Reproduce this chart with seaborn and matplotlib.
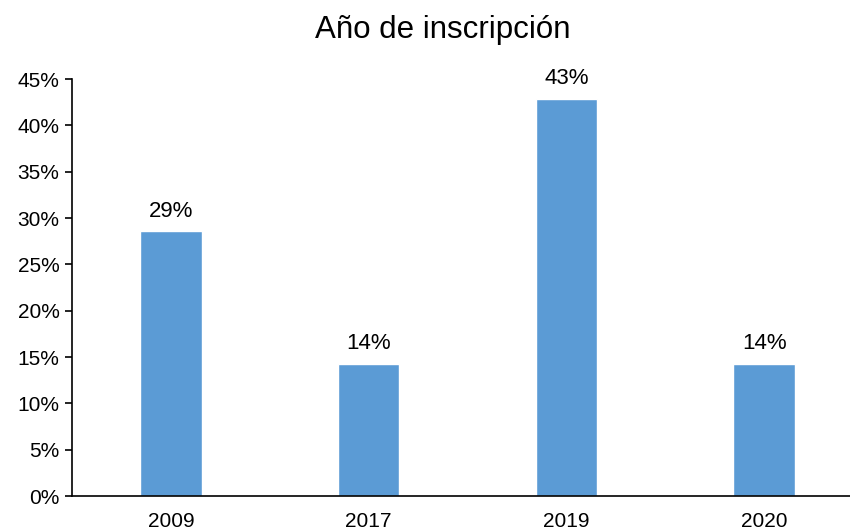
import matplotlib
matplotlib.use("Agg")
import matplotlib.pyplot as plt
import seaborn as sns
import pandas as pd
from matplotlib.ticker import PercentFormatter

# data
years = ["2009", "2017", "2019", "2020"]
shares = [28.57, 14.29, 42.86, 14.29]
labels = ["29%", "14%", "43%", "14%"]

df = pd.DataFrame({"year": years, "share": shares})

sns.set_style("white")
plt.rcParams['font.family'] = ['Liberation Sans', 'DejaVu Sans']
plt.rcParams['text.color'] = 'black'
plt.rcParams['xtick.color'] = 'black'
plt.rcParams['ytick.color'] = 'black'

fig = plt.figure(figsize=(8.5, 5.31), dpi=100)
ax = fig.add_axes([0.0847, 0.0659, 0.9306, 0.7853])

sns.barplot(data=df, x="year", y="share", color="#5B9BD5", saturation=1,
            width=0.31, ax=ax)

ax.set_xlim(-0.5, 3.5)
ax.set_ylim(0, 45)
ax.set_yticks(range(0, 50, 5))
ax.yaxis.set_major_formatter(PercentFormatter(decimals=0))
ax.set_xlabel("")
ax.set_ylabel("")

for p, lab in zip(ax.patches, labels):
    ax.annotate(lab, (p.get_x() + p.get_width() / 2, p.get_height()),
                xytext=(0, 7), textcoords="offset points",
                ha="center", va="bottom", fontsize=16, color="black")

for s in ["top", "right"]:
    ax.spines[s].set_visible(False)
for s in ["left", "bottom"]:
    ax.spines[s].set_color("black")
    ax.spines[s].set_linewidth(1.2)

ax.tick_params(axis="y", left=True, length=5, width=1.2, color="black",
               labelsize=15, pad=4, labelcolor="black")
ax.tick_params(axis="x", bottom=False, labelsize=15, pad=8, labelcolor="black")

fig.text(443 / 850, 1 - 30 / 531, "Año de inscripción", ha="center",
         va="center", fontsize=22.5, color="black")

fig.savefig("out.png", dpi=100)
